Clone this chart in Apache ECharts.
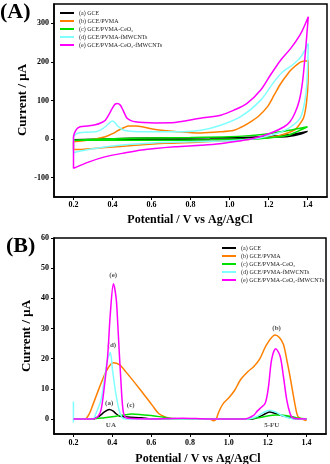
<!DOCTYPE html>
<html>
<head>
<meta charset="utf-8">
<script src="https://cdn.jsdelivr.net/npm/echarts@6/dist/echarts.min.js"></script>
<style>
  html, body { margin: 0; padding: 0; background: #fff; }
  #chart { width: 330px; height: 464px; }
</style>
</head>
<body>
<div id="chart"></div>
<script>
// electrode names and colours, same order in both panels
const electrodes = ["(a) GCE", "(b) GCE/PVMA", "(c) GCE/PVMA-CeO\u2082", "(d) GCE/PVMA-fMWCNTs", "(e) GCE/PVMA-CeO\u2082-fMWCNTs"];
const colors = ["#000000", "#FF8000", "#00E000", "#80FFFF", "#FF00FF"];

const xTicks = [0.2, 0.4, 0.6, 0.8, 1.0, 1.2, 1.4];
const yTicksA = [-100, 0, 100, 200, 300];
const yTicksB = [0, 10, 20, 30, 40, 50, 60];

// (A) cyclic voltammograms: potential (V) / current (uA), forward then reverse scan
const cvGceV = [0.2, 0.5, 0.8, 1.0, 1.2, 1.3, 1.4, 1.366, 1.3, 1.21, 1.1, 0.9, 0.6, 0.2, 0.2];
const cvGceI = [-2, 2, 3, 4, 7, 11, 20, 13, 7, 4.5, 1, -1, -2, -2, -2];

const cvPvmaV = [0.2, 0.24, 0.277, 0.32, 0.363, 0.4, 0.431, 0.46, 0.483, 0.52, 0.552, 0.62, 0.72, 0.852, 0.955, 1.023, 1.057, 1.1, 1.15, 1.195, 1.23, 1.263, 1.29, 1.315, 1.366, 1.404,
  1.403, 1.395, 1.38, 1.35, 1.332, 1.263, 1.16, 1.05, 0.955, 0.835, 0.67, 0.517, 0.363, 0.25, 0.2, 0.2];
const cvPvmaI = [-7, -5, -2.6, 1, 6, 14, 23, 30, 34, 34, 32, 25, 20, 16, 19, 23, 30, 42, 60, 84, 115, 144, 163, 179, 200, 203,
  150, 95, 55, 32, 23, 10, 2, -3, -5, -8, -11, -16, -22, -26, -27, -7];

const cvCeoV = [0.2, 0.4, 0.6, 0.8, 1.0, 1.1, 1.2, 1.3, 1.4, 1.35, 1.3, 1.2, 1.1, 0.9, 0.6, 0.4, 0.2, 0.2];
const cvCeoI = [-3, 1, 3, 4, 6, 9, 14, 22, 32, 20, 10, 3, 0, -2, -3, -3, -3, -3];

const cvMwcntV = [0.2, 0.2, 0.21, 0.226, 0.27, 0.312, 0.34, 0.363, 0.385, 0.4, 0.412, 0.423, 0.436, 0.449, 0.48, 0.535, 0.62, 0.72, 0.852, 0.955, 1.057, 1.16, 1.229, 1.272, 1.323, 1.366, 1.404,
  1.4, 1.392, 1.366, 1.315, 1.246, 1.16, 1.057, 0.95, 0.8, 0.62, 0.449, 0.35, 0.277, 0.217, 0.2];
const cvMwcntI = [-36, 5, 12, 16, 18, 19, 24, 32, 42, 47, 43, 36, 30, 25, 21, 19, 19, 19, 23, 36, 58, 101, 149, 174, 192, 213, 248,
  180, 118, 58, 32, 15, 3.5, -2.6, -5, -7, -9.5, -15.5, -21, -27, -33, -36];

const cvCompV = [0.2, 0.2, 0.215, 0.234, 0.27, 0.312, 0.345, 0.363, 0.38, 0.397, 0.412, 0.426, 0.44, 0.449, 0.462, 0.475, 0.495, 0.517, 0.56, 0.62, 0.72, 0.85, 0.955, 1.023, 1.09, 1.16, 1.21, 1.263, 1.314, 1.366, 1.404,
  1.39, 1.375, 1.358, 1.335, 1.31, 1.28, 1.21, 1.126, 1.05, 0.95, 0.85, 0.72, 0.55, 0.45, 0.36, 0.28, 0.2];
const cvCompI = [-76, 5, 25, 32, 34, 37, 43, 49, 62, 78, 90, 92.5, 88, 80, 66, 54, 48, 45, 43, 42, 43, 54, 62, 75, 92.5, 127, 166, 205, 235, 274, 317,
  230, 150, 100, 67, 45, 32, 15, 2, -5, -12, -16, -20, -28, -37, -46, -59, -76];

// (B) differential pulse voltammograms
const dpvGceV = [0.2, 0.3, 0.33, 0.36, 0.384, 0.405, 0.418, 0.436, 0.48, 0.55, 0.6, 1.12, 1.16, 1.19, 1.21, 1.24, 1.28, 1.32, 1.35, 1.4];
const dpvGceI = [0, 0, 0.8, 2.3, 3.1, 2.6, 1.8, 1.0, 0.6, 0.4, 0, 0, 0.8, 1.8, 2.3, 1.8, 1.0, 0.3, 0, 0];

const dpvPvmaV = [0.2, 0.26, 0.28, 0.299, 0.333, 0.367, 0.39, 0.406, 0.436, 0.47, 0.538, 0.606, 0.64, 0.675, 0.72, 0.9, 0.922, 0.935, 0.948, 0.97, 1.0, 1.03, 1.06, 1.1, 1.13, 1.16, 1.195, 1.238, 1.26, 1.281, 1.3, 1.315, 1.341, 1.357, 1.39, 1.4];
const dpvPvmaI = [0, 0, 1.5, 4.5, 10.3, 15.6, 18, 18.6, 18, 15.6, 10.2, 4.5, 1.7, 0.6, 0, 0, -0.6, 0, 2.3, 5, 7, 9.5, 13, 15.8, 17.5, 20, 24.7, 27.8, 27, 24.7, 19, 14, 4.6, 0.7, -0.4, -0.5];

const dpvCeoV = [0.2, 0.3, 0.36, 0.42, 0.46, 0.5, 0.54, 0.6, 0.66, 0.72, 0.8, 1.1, 1.16, 1.2, 1.24, 1.28, 1.32, 1.36, 1.4];
const dpvCeoI = [0, 0, 0.4, 0.9, 1.3, 1.6, 1.5, 1.1, 0.6, 0.1, 0, 0, 0.5, 1.0, 1.3, 1.2, 0.8, 0.2, 0];

const dpvMwcntV = [0.2, 0.2, 0.205, 0.3, 0.316, 0.342, 0.359, 0.376, 0.39, 0.401, 0.418, 0.436, 0.45, 0.47, 1.1, 1.15, 1.18, 1.21, 1.24, 1.27, 1.3, 1.35, 1.4];
const dpvMwcntI = [5.8, -1.2, 0, 0, 1.8, 6.3, 13, 19.7, 22, 16.3, 8.5, 2.7, 0.5, 0, 0, 1, 2.2, 2.9, 2.3, 1.2, 0.5, 0, 0];

const dpvCompV = [0.2, 0.3, 0.325, 0.342, 0.359, 0.376, 0.39, 0.406, 0.42, 0.427, 0.436, 0.444, 0.452, 0.461, 0.48, 0.6, 0.76, 0.9, 1.08, 1.127, 1.145, 1.161, 1.187, 1.204, 1.22, 1.241, 1.264, 1.281, 1.298, 1.315, 1.33, 1.4];
const dpvCompI = [0, 0, 0.7, 2.9, 10.7, 20.8, 35, 44.8, 40, 33, 22, 13, 5, 1.2, 0.2, 0, 0.2, 0, 0, 1.2, 2.5, 3.5, 5.2, 10.7, 19.7, 23.3, 20.8, 14, 6.3, 1.8, 0.3, 0];

// peak labels in panel B
const annoText = ["(e)", "(d)", "(a)", "(c)", "(b)", "UA", "5-FU"];
const annoV = [0.405, 0.398, 0.384, 0.495, 1.246, 0.393, 1.221];
const annoI = [47.8, 24.6, 5.3, 4.6, 30.2, -2.0, -2.0];

const FONT = "Liberation Serif";
const zip = (v, i) => v.map((x, k) => [x, i[k]]);

const curvesA = [[cvGceV, cvGceI], [cvPvmaV, cvPvmaI], [cvCeoV, cvCeoI], [cvMwcntV, cvMwcntI], [cvCompV, cvCompI]];
const curvesB = [[dpvGceV, dpvGceI], [dpvPvmaV, dpvPvmaI], [dpvCeoV, dpvCeoI], [dpvMwcntV, dpvMwcntI], [dpvCompV, dpvCompI]];

function lineSeries(curves, axis) {
  return curves.map((c, k) => ({
    name: electrodes[k],
    type: "line",
    xAxisIndex: axis,
    yAxisIndex: axis,
    data: zip(c[0], c[1]),
    symbol: "none",
    smooth: 0.3,
    lineStyle: { color: colors[k], width: 1.5 },
    itemStyle: { color: colors[k] },
  }));
}

function xAxisOf(grid, margin) {
  return {
    type: "value", gridIndex: grid, min: 0.1, max: 1.5,
    axisLine: { show: true, onZero: false, lineStyle: { color: "#000", width: 1.5 } },
    axisTick: { show: true, customValues: xTicks, length: 3, lineStyle: { color: "#000" } },
    axisLabel: { customValues: xTicks, formatter: (v) => v.toFixed(1), fontFamily: FONT, fontWeight: "bold", fontSize: 8, color: "#000", margin: margin },
    splitLine: { show: false },
  };
}

function yAxisOf(grid, min, max, ticks) {
  return {
    type: "value", gridIndex: grid, min: min, max: max,
    axisLine: { show: true, onZero: false, lineStyle: { color: "#000", width: 1.5 } },
    axisTick: { show: true, customValues: ticks, length: 3, lineStyle: { color: "#000" } },
    axisLabel: { customValues: ticks, fontFamily: FONT, fontWeight: "bold", fontSize: 8, color: "#000", margin: 5 },
    splitLine: { show: false },
  };
}

function legendOf(left, top) {
  return {
    orient: "vertical", left: left, top: top, padding: 0, itemGap: 0,
    icon: "rect", itemWidth: 14, itemHeight: 2,
    textStyle: { fontFamily: FONT, fontSize: 6, lineHeight: 8, color: "#222" },
    data: electrodes,
  };
}

const chart = echarts.init(document.getElementById("chart"), null, { renderer: "canvas" });
chart.setOption({
  animation: false,
  backgroundColor: "#fff",
  grid: [
    { left: 54, top: 4, width: 273, height: 193, show: true, borderColor: "#000", borderWidth: 1.5, backgroundColor: "transparent" },
    { left: 54, top: 238, width: 272, height: 196, show: true, borderColor: "#000", borderWidth: 1.5, backgroundColor: "transparent" },
  ],
  xAxis: [xAxisOf(0, 4), xAxisOf(1, 5)],
  yAxis: [yAxisOf(0, -150, 350, yTicksA), yAxisOf(1, -5, 60, yTicksB)],
  legend: [legendOf(60, 9), legendOf(222, 244)],
  graphic: [
    { type: "text", left: 0, top: 1, style: { text: "(A)", font: 'bold 22px "Liberation Serif"', fill: "#000" } },
    { type: "text", left: 6, top: 235, style: { text: "(B)", font: 'bold 22px "Liberation Serif"', fill: "#000" } },
    { type: "text", x: 23, y: 100, rotation: Math.PI / 2, style: { text: "Current / \u03bcA", font: 'bold 13px "Liberation Serif"', fill: "#000", align: "center", verticalAlign: "middle" } },
    { type: "text", x: 27, y: 336, rotation: Math.PI / 2, style: { text: "Current / \u03bcA", font: 'bold 13px "Liberation Serif"', fill: "#000", align: "center", verticalAlign: "middle" } },
    { type: "text", x: 190, y: 220, style: { text: "Potential / V vs Ag/AgCl", font: 'bold 12px "Liberation Serif"', fill: "#000", align: "center", verticalAlign: "middle" } },
    { type: "text", x: 198, y: 459, style: { text: "Potential / V vs Ag/AgCl", font: 'bold 12px "Liberation Serif"', fill: "#000", align: "center", verticalAlign: "middle" } },
  ],
  series: [
    ...lineSeries(curvesA, 0),
    ...lineSeries(curvesB, 1),
    {
      name: "labels",
      type: "scatter",
      xAxisIndex: 1,
      yAxisIndex: 1,
      symbolSize: 0,
      silent: true,
      data: zip(annoV, annoI),
      label: {
        show: true, position: "inside",
        formatter: (p) => annoText[p.dataIndex],
        fontFamily: FONT, fontWeight: "bold", fontSize: 7, color: "#222",
      },
    },
  ],
});
</script>
</body>
</html>
